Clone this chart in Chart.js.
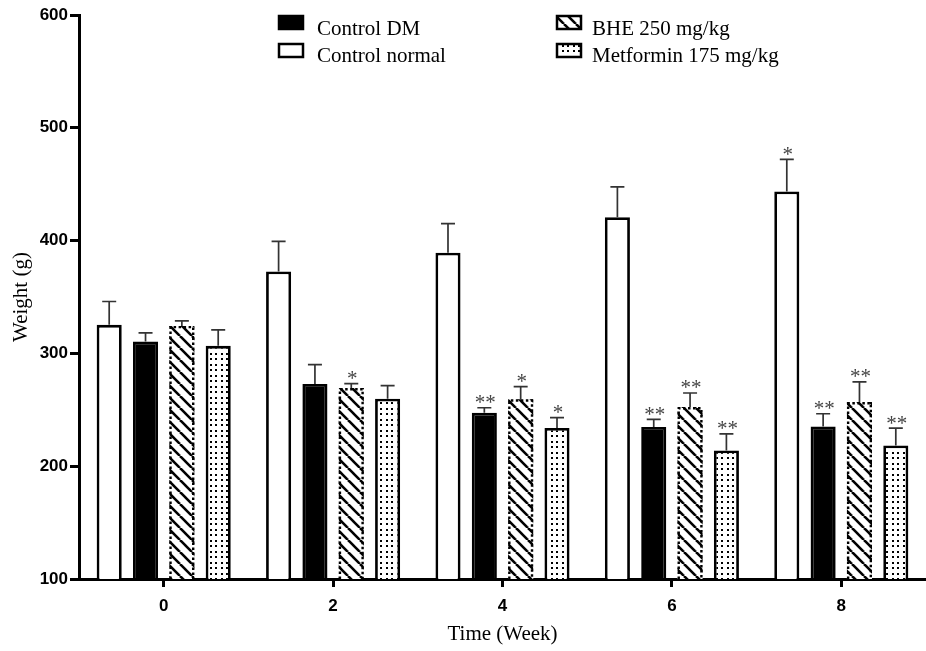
<!DOCTYPE html>
<html><head><meta charset="utf-8">
<script src="https://cdn.jsdelivr.net/npm/chart.js@4.4.1/dist/chart.umd.min.js"></script>
<style>html,body{margin:0;padding:0;background:#fff;overflow:hidden}
#wrap{width:926px;height:651px;position:relative}</style>
</head><body><div id="wrap"><canvas id="c"></canvas></div>
<script>
// ---- data ----
const weeks = ['0', '2', '4', '6', '8'];
const seriesNames = ['Control normal', 'Control DM', 'BHE 250 mg/kg', 'Metformin 175 mg/kg'];
const controlNormal = [325.3, 372.7, 389.3, 420.7, 443.6];
const controlNormalErr = [20.7, 26.7, 25.8, 27.0, 28.4];
const controlDM = [310.5, 272.9, 247.4, 234.7, 235.3];
const controlDMErr = [7.7, 17.2, 4.4, 6.8, 11.2];
const bhe = [324.4, 269.3, 259.3, 252.4, 256.9];
const bheErr = [4.5, 3.9, 11.2, 12.5, 17.8];
const metformin = [306.7, 259.8, 233.8, 214.0, 218.4];
const metforminErr = [14.2, 11.6, 9.2, 14.7, 15.4];
const controlNormalStars = ['', '', '', '', '*'];
const controlDMStars = ['', '', '**', '**', '**'];
const bheStars = ['', '*', '*', '**', '**'];
const metforminStars = ['', '', '*', '**', '**'];
const yTicks = [100, 200, 300, 400, 500, 600];

const errs = [controlNormalErr, controlDMErr, bheErr, metforminErr];
const stars = [controlNormalStars, controlDMStars, bheStars, metforminStars];

// ---- patterns ----
function stripePattern() {
  const s = 12, c = document.createElement('canvas');
  c.width = s; c.height = s;
  const g = c.getContext('2d');
  g.fillStyle = '#fff'; g.fillRect(0, 0, s, s);
  g.strokeStyle = '#000'; g.lineWidth = 2.6;
  for (const k of [-s, 0, s]) { g.beginPath(); g.moveTo(k, 0); g.lineTo(k + s, s); g.stroke(); }
  return g.createPattern(c, 'repeat');
}
function dotPattern() {
  const s = 11, c = document.createElement('canvas');
  c.width = s; c.height = s;
  const g = c.getContext('2d');
  g.fillStyle = '#fff'; g.fillRect(0, 0, s, s);
  g.fillStyle = '#000';
  for (const a of [1, 6]) for (const b of [1, 6]) g.fillRect(a, b, 2, 2);
  return g.createPattern(c, 'repeat');
}
const stripes = stripePattern();
const dots = dotPattern();

const serif = "'Liberation Serif', 'Times New Roman', serif";
const sans = "'Liberation Sans', Arial, sans-serif";

// ---- plugin: error bars, stars, dashed border, legend ----
const extras = {
  id: 'extras',
  afterDatasetsDraw(chart) {
    const ctx = chart.ctx, y = chart.scales.y;
    const bottom = chart.chartArea.bottom;
    // dashed border for BHE
    chart.getDatasetMeta(2).data.forEach(el => {
      const l = el.x - el.width / 2 + 1.2, r = el.x + el.width / 2 - 1.2, t = el.y + 1.2, b = bottom;
      ctx.save();
      ctx.strokeStyle = '#000'; ctx.lineWidth = 2.4; ctx.setLineDash([2.5, 2.5]);
      ctx.beginPath(); ctx.moveTo(l, b); ctx.lineTo(l, t); ctx.lineTo(r, t); ctx.lineTo(r, b); ctx.stroke();
      ctx.restore();
    });
    chart.data.datasets.forEach((ds, di) => {
      chart.getDatasetMeta(di).data.forEach((el, i) => {
        const top = y.getPixelForValue(ds.data[i] + errs[di][i]);
        ctx.save();
        ctx.strokeStyle = '#333'; ctx.lineWidth = 1.7;
        ctx.beginPath();
        ctx.moveTo(el.x, el.y); ctx.lineTo(el.x, top);
        ctx.moveTo(el.x - 7, top); ctx.lineTo(el.x + 7, top);
        ctx.stroke();
        const st = stars[di][i];
        if (st) {
          ctx.fillStyle = '#444'; ctx.font = '21px ' + serif;
          ctx.textAlign = 'center'; ctx.textBaseline = 'alphabetic';
          ctx.fillText(st, el.x + 1, top + 1.5);
        }
        ctx.restore();
      });
    });
  },
  afterDraw(chart) {
    const ctx = chart.ctx;
    const items = [
      {name: seriesNames[1], fill: '#000', x: 279, y: 16, tx: 317, ty: 35},
      {name: seriesNames[0], fill: '#fff', x: 279, y: 44, tx: 317, ty: 62},
      {name: seriesNames[2], fill: stripes, x: 557, y: 16, tx: 592, ty: 35},
      {name: seriesNames[3], fill: dots, x: 557, y: 44, tx: 592, ty: 62}
    ];
    ctx.save();
    items.forEach(it => {
      ctx.fillStyle = it.fill; ctx.fillRect(it.x, it.y, 24, 13);
      ctx.strokeStyle = '#000'; ctx.lineWidth = 2.5; ctx.strokeRect(it.x, it.y, 24, 13);
      ctx.fillStyle = '#000'; ctx.font = '21px ' + serif;
      ctx.textAlign = 'left'; ctx.textBaseline = 'alphabetic';
      ctx.fillText(it.name, it.tx, it.ty);
    });
    ctx.restore();
  }
};

new Chart(document.getElementById('c'), {
  type: 'bar',
  data: {
    labels: weeks,
    datasets: [
      {label: seriesNames[0], data: controlNormal, backgroundColor: '#fff', borderColor: '#000', borderWidth: 2.8},
      {label: seriesNames[1], data: controlDM, backgroundColor: '#000', borderColor: '#000', borderWidth: 2.8},
      {label: seriesNames[2], data: bhe, backgroundColor: stripes, borderWidth: 0},
      {label: seriesNames[3], data: metformin, backgroundColor: dots, borderColor: '#000', borderWidth: 2.8}
    ].map(d => Object.assign(d, {categoryPercentage: 0.858, barPercentage: 0.69, borderSkipped: 'bottom'}))
  },
  options: {
    responsive: true, maintainAspectRatio: false, animation: false,
    layout: {padding: {top: 15, right: 0, left: 0, bottom: 0}},
    plugins: {legend: {display: false}, tooltip: {enabled: false}},
    scales: {
      x: {
        grid: {display: true, drawOnChartArea: false, drawTicks: true, tickLength: 8, tickWidth: 3, tickColor: '#000', offset: false},
        border: {display: true, width: 3, color: '#000'},
        ticks: {font: {family: sans, size: 17, weight: 'bold'}, color: '#000', padding: 9},
        title: {display: true, text: 'Time (Week)', font: {family: serif, size: 21}, color: '#000', padding: {top: 2, bottom: 4}},
        afterFit(s) { s.height = 72; }
      },
      y: {
        min: yTicks[0], max: yTicks[yTicks.length - 1],
        afterBuildTicks(s) { s.ticks = yTicks.map(v => ({value: v})); },
        grid: {display: true, drawOnChartArea: false, drawTicks: true, tickLength: 9, tickWidth: 3, tickColor: '#000'},
        border: {display: true, width: 3, color: '#000'},
        ticks: {font: {family: sans, size: 17, weight: 'bold'}, color: '#000', padding: 2},
        title: {display: true, text: 'Weight (g)', font: {family: serif, size: 21}, color: '#000', padding: {top: 9, bottom: 4}},
        afterFit(s) { s.width = 79; }
      }
    }
  },
  plugins: [extras]
});
</script></body></html>
